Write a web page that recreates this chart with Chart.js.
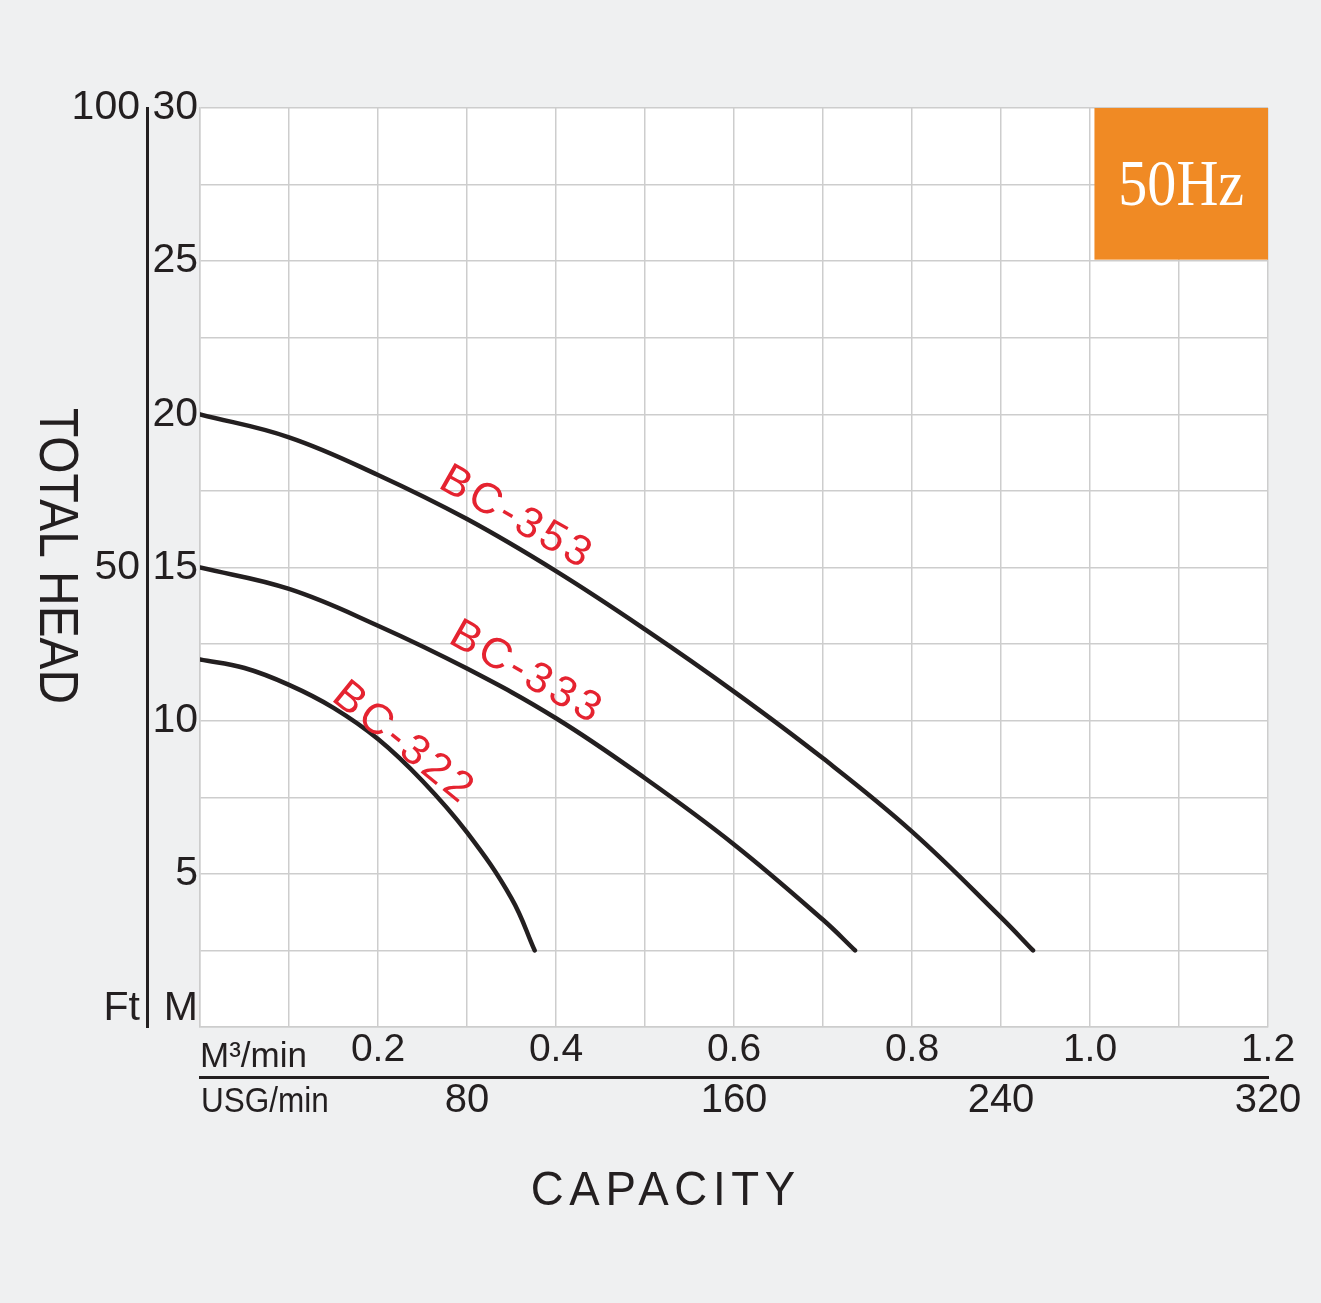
<!DOCTYPE html>
<html>
<head>
<meta charset="utf-8">
<script src="https://cdn.jsdelivr.net/npm/chart.js@4.4.1/dist/chart.umd.min.js"></script>
<style>
  html, body { margin: 0; padding: 0; background: #eff0f1; }
  #wrap { width: 1321px; height: 1303px; }
</style>
</head>
<body>
<div id="wrap"><canvas id="pumpChart" width="1321" height="1303"></canvas></div>
<script>
'use strict';

// capacity in M3/min, total head in M
let flow353 = [0, 0.1, 0.2, 0.3, 0.4, 0.5, 0.6, 0.7, 0.8, 0.9, 0.936];
let head353 = [20.0, 19.25, 18.02, 16.58, 14.88, 12.98, 10.95, 8.77, 6.38, 3.58, 2.5];
let flow333 = [0, 0.1, 0.2, 0.3, 0.4, 0.5, 0.6, 0.7, 0.736];
let head333 = [15.0, 14.3, 13.1, 11.7, 10.08, 8.12, 5.96, 3.5, 2.5];
let flow322 = [0, 0.05, 0.1, 0.15, 0.2, 0.25, 0.3, 0.35, 0.376];
let head322 = [12.0, 11.72, 11.17, 10.42, 9.4, 8.03, 6.35, 4.2, 2.5];

let modelNames = ['BC-353', 'BC-333', 'BC-322'];

let flowTicks = [0.2, 0.4, 0.6, 0.8, 1.0, 1.2];
let usgTicks = [80, 160, 240, 320];
let headTicks = [5, 10, 15, 20, 25, 30];
let ftTicks = [50, 100];

const FONT = "'Liberation Sans', Arial, sans-serif";
const INK = '#231f20';
const GRID = '#cdcdcd';

function toPoints(xs, ys) {
  let pts = [];
  for (let i = 0; i < xs.length; i++) {
    pts.push({ x: xs[i], y: ys[i] });
  }
  return pts;
}

function curve(label, xs, ys) {
  return {
    label: label,
    data: toPoints(xs, ys),
    borderColor: INK,
    borderWidth: 4.5,
    borderCapStyle: 'round',
    borderJoinStyle: 'round',
    pointRadius: 0,
    fill: false,
    tension: 0.4
  };
}

// model name placement along each curve, in chart units
let nameSpots = [
  { x: 0.356, y: 16.6, angle: 29.5 },
  { x: 0.367, y: 11.54, angle: 29.5 },
  { x: 0.229, y: 9.25, angle: 39 }
];

function put(ctx, text, x, y, font, color, align, sx) {
  ctx.save();
  ctx.translate(x, y);
  ctx.scale(sx || 1, 1);
  ctx.font = font;
  ctx.fillStyle = color;
  ctx.textAlign = align;
  ctx.textBaseline = 'alphabetic';
  ctx.fillText(text, 0, 0);
  ctx.restore();
}

const paperPlugin = {
  id: 'paper',
  beforeDraw(chart) {
    let a = chart.chartArea;
    let ctx = chart.ctx;
    ctx.save();
    ctx.fillStyle = '#ffffff';
    ctx.fillRect(a.left, a.top, a.right - a.left, a.bottom - a.top);
    ctx.restore();
  },
  beforeDatasetsDraw(chart) {
    let ctx = chart.ctx;
    let xs = chart.scales.x;
    let ys = chart.scales.y;
    let l = xs.getPixelForValue(1.005), r = xs.getPixelForValue(1.2);
    let t = ys.getPixelForValue(30), b = ys.getPixelForValue(25.05);
    ctx.save();
    ctx.fillStyle = '#f08a24';
    ctx.fillRect(l, t, r - l, b - t);
    ctx.restore();
    put(ctx, '50Hz', (l + r) / 2, 205, "66px 'Liberation Serif', 'DejaVu Serif', serif", '#ffffff', 'center', 0.88);
  },
  afterDraw(chart) {
    let ctx = chart.ctx;
    let xs = chart.scales.x;
    let ys = chart.scales.y;

    // model names on the curves
    for (let i = 0; i < modelNames.length; i++) {
      let s = nameSpots[i];
      ctx.save();
      ctx.translate(xs.getPixelForValue(s.x), ys.getPixelForValue(s.y));
      ctx.rotate(s.angle * Math.PI / 180);
      ctx.font = '43px ' + FONT;
      ctx.letterSpacing = '4px';
      ctx.fillStyle = '#e52330';
      ctx.textAlign = 'center';
      ctx.textBaseline = 'middle';
      ctx.fillText(modelNames[i], 0, 0);
      ctx.restore();
    }

    // unit names left of the capacity ticks
    put(ctx, 'M\u00b3/min', 200, 1067, '35px ' + FONT, INK, 'left');
    put(ctx, 'USG/min', 201, 1112, '35px ' + FONT, INK, 'left', 0.9);

    // axis titles
    ctx.save();
    ctx.translate(663, 1205);
    ctx.scale(0.95, 1);
    ctx.font = '48px ' + FONT;
    ctx.letterSpacing = '6px';
    ctx.fillStyle = INK;
    ctx.textAlign = 'center';
    ctx.textBaseline = 'alphabetic';
    ctx.fillText('CAPACITY', 3, 0);
    ctx.restore();

    ctx.save();
    ctx.translate(55, 556);
    ctx.rotate(Math.PI / 2);
    ctx.scale(0.87, 1);
    ctx.font = '55px ' + FONT;
    ctx.fillStyle = INK;
    ctx.textAlign = 'center';
    ctx.textBaseline = 'middle';
    ctx.fillText('TOTAL HEAD', 0, 0);
    ctx.restore();
  }
};

function near(list, v) {
  return list.some(t => Math.abs(t - v) < 1e-6);
}

let ctx = document.getElementById('pumpChart').getContext('2d');

let pumpChart = new Chart(ctx, {
  type: 'line',
  data: {
    datasets: [
      curve(modelNames[0], flow353, head353),
      curve(modelNames[1], flow333, head333),
      curve(modelNames[2], flow322, head322)
    ]
  },
  plugins: [paperPlugin],
  options: {
    responsive: false,
    animation: false,
    devicePixelRatio: 1,
    layout: { padding: { left: 0, top: 108, right: 53, bottom: 156 } },
    plugins: {
      legend: { display: false },
      tooltip: { enabled: false }
    },
    scales: {
      x: {
        type: 'linear',
        position: 'bottom',
        weight: 0,
        min: 0,
        max: 1.2,
        afterFit(scale) { scale.height = 50; },
        grid: { color: GRID, lineWidth: 1.5, drawTicks: false },
        border: { display: true, color: GRID, width: 1.5 },
        ticks: {
          stepSize: 0.1,
          autoSkip: false,
          maxRotation: 0,
          padding: 4,
          color: INK,
          font: { family: FONT, size: 39, lineHeight: 1 },
          callback: v => near(flowTicks, v) ? v.toFixed(1) : ''
        }
      },
      x2: {
        type: 'linear',
        position: 'bottom',
        weight: 1,
        min: 0,
        max: 320,
        afterFit(scale) { scale.height = 70; },
        grid: { display: false, drawTicks: false },
        border: { display: true, color: INK, width: 3 },
        ticks: {
          stepSize: 80,
          autoSkip: false,
          maxRotation: 0,
          padding: 4,
          color: INK,
          font: { family: FONT, size: 40, lineHeight: 1 },
          callback: v => usgTicks.includes(v) ? String(v) : ''
        }
      },
      y: {
        type: 'linear',
        position: 'left',
        weight: 0,
        min: 0,
        max: 30,
        afterFit(scale) { scale.width = 53; },
        grid: { color: GRID, lineWidth: 1.5, drawTicks: false },
        border: { display: true, color: GRID, width: 1.5 },
        ticks: {
          stepSize: 2.5,
          autoSkip: false,
          padding: 2,
          color: INK,
          font: { family: FONT, size: 41, lineHeight: 0.87 },
          callback: v => v === 0 ? ['M', ''] : (headTicks.includes(v) ? String(v) : '')
        }
      },
      yFt: {
        type: 'linear',
        position: 'left',
        weight: 1,
        min: 0,
        max: 100,
        afterFit(scale) { scale.width = 147; },
        grid: { display: false, drawTicks: false },
        border: { display: true, color: INK, width: 3 },
        ticks: {
          stepSize: 50,
          autoSkip: false,
          padding: 7,
          color: INK,
          font: { family: FONT, size: 41, lineHeight: 0.87 },
          callback: v => v === 0 ? ['Ft', ''] : (ftTicks.includes(v) ? String(v) : '')
        }
      }
    }
  }
});
</script>
</body>
</html>
